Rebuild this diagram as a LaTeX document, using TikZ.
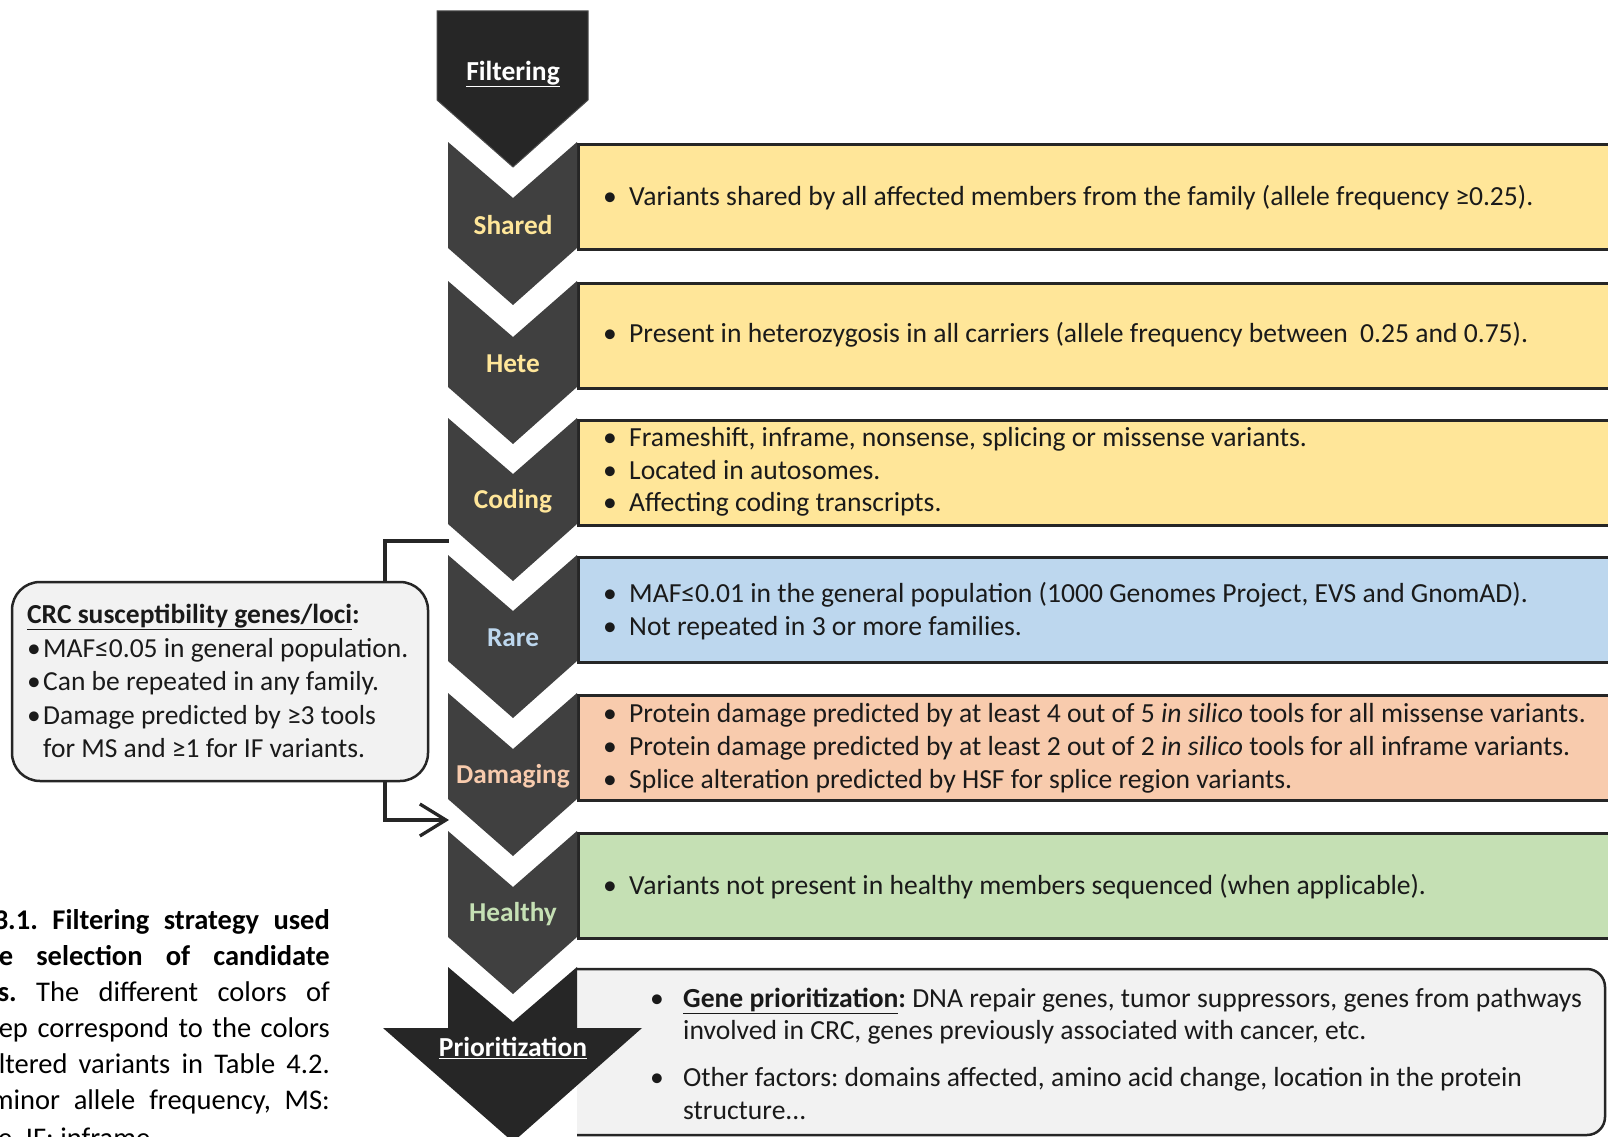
\documentclass[tikz,border=0pt]{standalone}
\usepackage{fontspec}
\setmainfont{Carlito}
\usetikzlibrary{arrows.meta}

\definecolor{chevgrey}{HTML}{404040}
\definecolor{chevblack}{HTML}{262626}
\definecolor{lineclr}{HTML}{262626}
\definecolor{textclr}{HTML}{1A1A1A}
\definecolor{yellowbox}{HTML}{FFE699}
\definecolor{bluebox}{HTML}{BDD7EE}
\definecolor{peachbox}{HTML}{F8CBAD}
\definecolor{greenbox}{HTML}{C5E0B4}
\definecolor{greybox}{HTML}{F2F2F2}

\newcommand{\itembul}{\makebox[26pt][l]{\textbullet}}
\newcommand{\priobul}{\makebox[33pt][l]{\textbullet}}
\newcommand{\crcbul}{\makebox[16pt][l]{\textbullet}}

\tikzset{
  stepbox/.style={draw=lineclr, line width=2.5pt, minimum width=1060pt,
    minimum height=105pt, anchor=north west, inner sep=0pt},
  chevfill/.style={fill=chevgrey},
  steplabel/.style={font=\fontsize{27.3}{31}\selectfont\bfseries, inner sep=0pt},
  headlabel/.style={font=\fontsize{27.5}{31}\selectfont\bfseries, text=white, inner sep=0pt},
  boxtext/.style={anchor=base west, font=\fontsize{27.6}{31}\selectfont, text=textclr, inner sep=0pt},
  priotext/.style={anchor=base west, font=\fontsize{27.6}{31}\selectfont, text=textclr, inner sep=0pt},
  crctext/.style={anchor=base west, font=\fontsize{27.5}{31}\selectfont, text=textclr, inner sep=0pt},
  captext/.style={font=\fontsize{28.5}{32}\selectfont, text=black, inner sep=0pt},
  crcbox/.style={draw=lineclr, line width=2.5pt, fill=greybox, rounded corners=28pt,
    minimum width=416pt, minimum height=199pt, inner sep=0pt},
  connector/.style={draw=lineclr, line width=3.3pt},
}

\begin{document}
\frenchspacing
\begin{tikzpicture}[x=1pt, y=-1pt]
\useasboundingbox (0,0) rectangle (1608,1137);

% final box behind the prioritization arrow (only right corners show rounding)
\begin{scope}
  \clip (577,900) rectangle (1700,1200);
  \draw[draw=lineclr, line width=2.5pt, fill=greybox, rounded corners=18pt]
    (540,969) rectangle (1605,1135);
\end{scope}

% filtering steps: coloured criteria box plus chevron with its label
\foreach \T/\nm/\lab/\clr in {142/shared/Shared/yellowbox, 281/hete/Hete/yellowbox,
    418/coding/Coding/yellowbox, 555/rare/Rare/bluebox,
    693/damaging/Damaging/peachbox, 831/healthy/Healthy/greenbox} {
  \node[stepbox, fill=\clr] (\nm box) at (577,{\T+1}) {};
  \fill[chevfill] (448,\T) -- (513,{\T+56}) -- (577,\T) -- (577,{\T+106})
    -- (513,{\T+163}) -- (448,{\T+106}) -- cycle;
  \node[steplabel, text=\clr] (\nm lab) at (513,{\T+83}) {\lab};
}

% head of the pipeline
\fill[chevblack, draw=black!70, line width=1pt]
  (437,11) -- (588,11) -- (588,100) -- (513,167) -- (437,100) -- cycle;
\node[headlabel] (filtlab) at (513,74) {\underline{Filtering}};

% last step: wide arrow
\fill[chevblack] (448,967) -- (513,1022) -- (577,967) -- (577,1028) -- (642,1028)
  -- (513,1142) -- (383,1028) -- (448,1028) -- cycle;
\node[headlabel] (priolab) at (513,1048) {\underline{Prioritization}};

% criteria texts
\node[boxtext] (t1) at (603,205) {\itembul Variants shared by all affected members from the family (allele frequency ≥0.25).};
\node[boxtext] (t2) at (603,342) {\itembul Present in heterozygosis in all carriers (allele frequency between \ 0.25 and 0.75).};
\node[boxtext] (t3a) at (603,446) {\itembul Frameshift, inframe, nonsense, splicing or missense variants.};
\node[boxtext] (t3b) at (603,479) {\itembul Located in autosomes.};
\node[boxtext] (t3c) at (603,511) {\itembul Affecting coding transcripts.};
\node[boxtext] (t4a) at (603,602) {\itembul MAF≤0.01 in the general population (1000 Genomes Project, EVS and GnomAD).};
\node[boxtext] (t4b) at (603,635) {\itembul Not repeated in 3 or more families.};
\node[boxtext] (t5a) at (603,722) {\itembul Protein damage predicted by at least 4 out of 5 \textit{in silico} tools for all missense variants.};
\node[boxtext] (t5b) at (603,755) {\itembul Protein damage predicted by at least 2 out of 2 \textit{in silico} tools for all inframe variants.};
\node[boxtext] (t5c) at (603,788) {\itembul Splice alteration predicted by HSF for splice region variants.};
\node[boxtext] (t6) at (603,894) {\itembul Variants not present in healthy members sequenced (when applicable).};

\node[priotext] (p1a) at (650,1007) {\priobul\textbf{\underline{Gene prioritization}:} DNA repair genes, tumor suppressors, genes from pathways};
\node[priotext] (p1b) at (683,1039) {involved in CRC, genes previously associated with cancer, etc.};
\node[priotext] (p2a) at (650,1086) {\priobul Other factors: domains affected, amino acid change, location in the protein};
\node[priotext] (p2b) at (683,1119) {structure...};

% side box with relaxed thresholds
\node[crcbox] (crc) at (220,681.5) {};
\node[crctext] (c0) at (27,623) {\textbf{\underline{CRC susceptibility genes/loci}:}};
\node[crctext] (c1) at (27,657) {\crcbul MAF≤0.05 in general population.};
\node[crctext] (c2) at (27,690) {\crcbul Can be repeated in any family.};
\node[crctext] (c3) at (27,724) {\crcbul Damage predicted by ≥3 tools};
\node[crctext] (c4) at (43,757) {for MS and ≥1 for IF variants.};

\coordinate (rail) at (385,0);
\coordinate (gapin) at (449,541);
\coordinate (gapout) at (449,820);
\draw[connector] (crc.north -| rail) |- (gapin);
\draw[connector, -{Straight Barb[length=26pt,width=32pt]}] (crc.south -| rail) |- (gapout);

% caption
\node[captext, anchor=base east] (cap1) at (330,929) {\makebox[336pt][s]{\bfseries 3.1. Filtering strategy used}};
\node[captext, anchor=base east] (cap2) at (330,965) {\makebox[331pt][s]{\bfseries e selection of candidate}};
\node[captext, anchor=base east] (cap3) at (330,1001) {\makebox[332pt][s]{\textbf{s.} The different colors of}};
\node[captext, anchor=base east] (cap4) at (330,1037) {\makebox[331pt][s]{ep correspond to the colors}};
\node[captext, anchor=base east] (cap5) at (330,1073) {\makebox[331pt][s]{ltered variants in Table 4.2.}};
\node[captext, anchor=base east] (cap6) at (330,1109) {\makebox[339pt][s]{minor allele frequency, MS:}};
\node[captext, anchor=base west] (cap7) at (-2,1147) {e, IF: inframe.};
\end{tikzpicture}
\end{document}
